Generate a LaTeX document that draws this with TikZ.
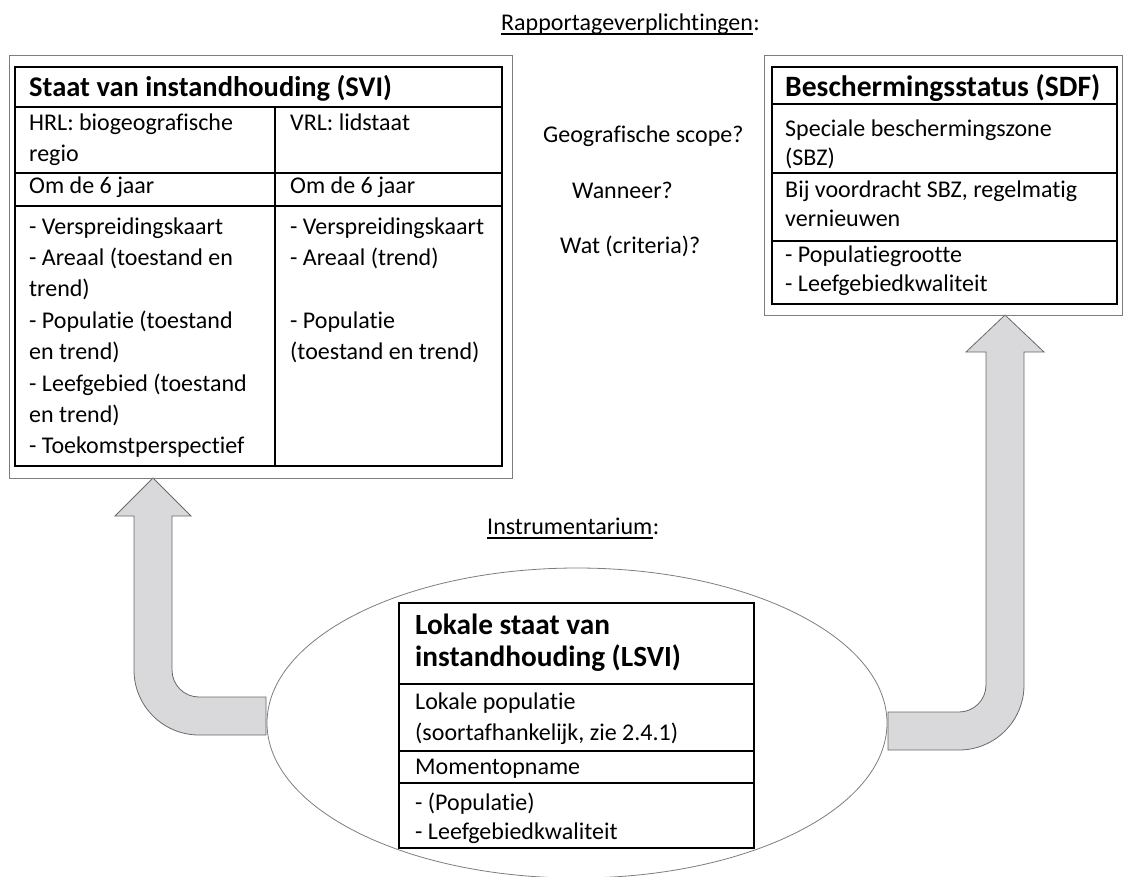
\documentclass[tikz,border=0pt]{standalone}
\usepackage{fontspec}
\setmainfont{Carlito}[Ligatures=NoCommon]
\usetikzlibrary{shapes.geometric}

\definecolor{arrowfill}{RGB}{217,217,219}
\definecolor{arrowline}{RGB}{105,105,105}
\definecolor{framegray}{RGB}{125,125,125}

\begin{document}
\begin{tikzpicture}[x=1pt, y=-1pt,
  txt/.style={anchor=base west, inner sep=0pt, font=\fontsize{24}{29}\selectfont},
  head/.style={anchor=base west, inner sep=0pt, font=\fontsize{#1}{34}\selectfont\bfseries},
  head/.default=28.5,
  frame/.style={draw=framegray, line width=0.9pt, anchor=north west, inner sep=0pt},
  grid/.style={draw=black, line width=1.6pt},
  blockarrow/.style={fill=arrowfill, draw=arrowline, line width=0.8pt}]
\useasboundingbox (0,0) rectangle (1124,876);

% ellipse with the local table
\node[ellipse, draw=framegray, line width=0.8pt, minimum width=620pt, minimum height=310pt] (instr) at (577,723) {};

% block arrows
\draw[blockarrow] (266,697) -- (199,697) arc (90:180:27) -- (172,516) -- (191,516)
    -- (153,478) -- (115,516) -- (134,516) -- (134,670) arc (180:90:65) -- (266,735) -- cycle;
\draw[blockarrow] (888,712) -- (959,712) arc (90:0:27) -- (986,352) -- (966,352)
    -- (1005,315) -- (1044,352) -- (1024,352) -- (1024,685) arc (0:90:65) -- (888,750) -- cycle;

% frames
\node[frame, minimum width=503pt, minimum height=423pt] (svi) at (9,55) {};
\node[frame, minimum width=358pt, minimum height=260pt] (sdf) at (764,55) {};

% table SVI
\draw[grid] (15,67) rectangle (502,466);
\draw[grid] (15,107) -- (502,107) (15,173) -- (502,173) (15,206) -- (502,206);
\draw[grid] (275,107) -- (275,466);
\node[head] (sviTitle) at (29,96) {Staat van instandhouding (SVI)};
\node[txt] (hrl1) at (29,130) {HRL: biogeografische};
\node[txt] (hrl2) at (29,161) {regio};
\node[txt] (hrlFreq) at (29,193) {Om de 6 jaar};
\foreach \t [count=\i from 0] in {{- Verspreidingskaart},{- Areaal (toestand en},{trend)},
    {- Populatie (toestand},{en trend)},{- Leefgebied (toestand},{en trend)},{- Toekomstperspectief}}
{
    \node[txt] (hrlc\i) at (29,{234+31.4*\i}) {\t};
}
\node[txt] (vrl1) at (290,130) {VRL: lidstaat};
\node[txt] (vrlFreq) at (290,193) {Om de 6 jaar};
\node[txt] (vrlc0) at (290,234) {- Verspreidingskaart};
\node[txt] (vrlc1) at (290,265.4) {- Areaal (trend)};
\node[txt] (vrlc3) at (290,328.2) {- Populatie};
\node[txt] (vrlc4) at (290,359.6) {(toestand en trend)};

% table SDF
\draw[grid] (772,67) rectangle (1117,304);
\draw[grid] (772,104) -- (1117,104) (772,173) -- (1117,173) (772,241) -- (1117,241);
\node[head=29.6] (sdfTitle) at (785,96) {Beschermingsstatus (SDF)};
\foreach \t/\y [count=\i] in {{Speciale beschermingszone}/136,{(SBZ)}/165,{Bij voordracht SBZ, regelmatig}/197,
    {vernieuwen}/226,{- Populatiegrootte}/262,{- Leefgebiedkwaliteit}/291}
{
    \node[txt] (sdf\i) at (785,\y) {\t};
}

% table LSVI
\draw[grid, fill=white] (399,603) rectangle (754,848);
\draw[grid] (399,684) -- (754,684) (399,751) -- (754,751) (399,783) -- (754,783);
\node[head=29.3] (lsviTitle1) at (415,634) {Lokale staat van};
\node[head=29.3] (lsviTitle2) at (415,666) {instandhouding (LSVI)};
\foreach \t/\y [count=\i] in {{Lokale populatie}/709,{(soortafhankelijk, zie 2.4.1)}/740,{Momentopname}/774,
    {- (Populatie)}/810,{- Leefgebiedkwaliteit}/839}
{
    \node[txt] (lsvi\i) at (415,\y) {\t};
}

% labels in between
\node[txt] (rap) at (501,30) {Rapportageverplichtingen};
\node[txt] (rapColon) at (rap.base east) {:};
\draw[line width=1.5pt] ([yshift=-4pt]rap.base west) -- ([yshift=-4pt]rap.base east);
\node[txt] (scope) at (543,142) {Geografische scope?};
\node[txt] (when) at (572,198) {Wanneer?};
\node[txt] (what) at (560,253) {Wat (criteria)?};
\node[txt] (instrLabel) at (487,534) {Instrumentarium};
\node[txt] (instrColon) at (instrLabel.base east) {:};
\draw[line width=1.5pt] ([yshift=-4pt]instrLabel.base west) -- ([yshift=-4pt]instrLabel.base east);

\end{tikzpicture}
\end{document}
